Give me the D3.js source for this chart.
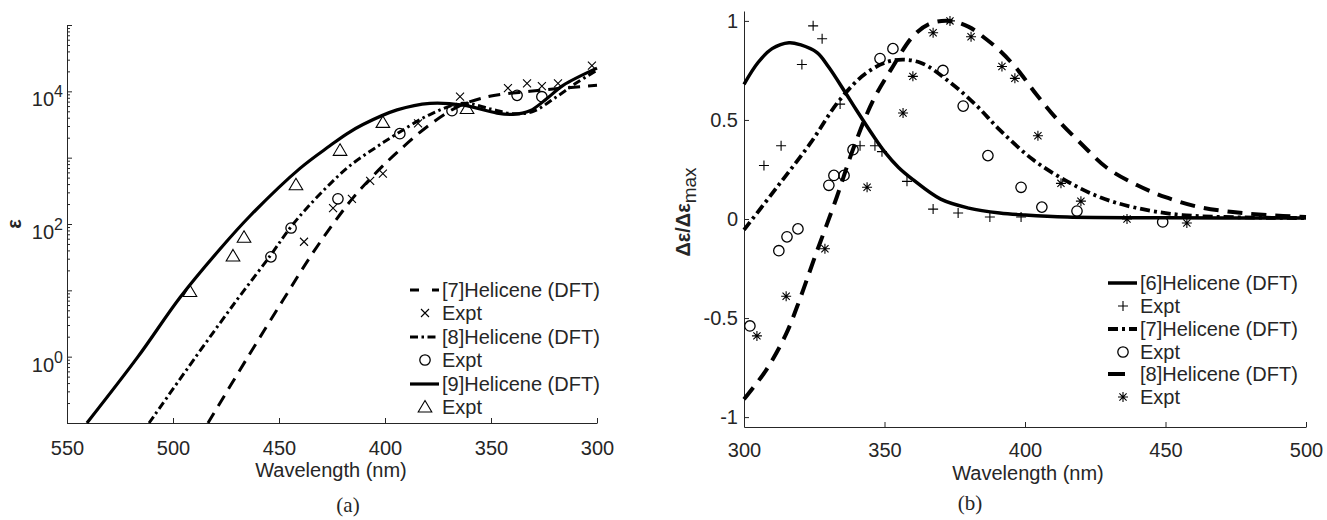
<!DOCTYPE html>
<html>
<head>
<meta charset="utf-8">
<script src="https://cdn.jsdelivr.net/npm/d3@7"></script>
<style>
body { margin: 0; background: #fff; }
svg text { font-family: "Liberation Sans", Arial, sans-serif; fill: #262626; }
</style>
</head>
<body>
<svg id="fig" width="1327" height="520"></svg>
<script>
// ---------- panel (a): absorption, epsilon on a log scale ----------
var absWave7 = [483.5, 464.6, 448, 435, 424.5, 415, 405, 394.3, 378.8, 365, 350, 331.6, 316, 300];
var absEps7  = [0.1, 1, 7.2, 33, 100, 250, 560, 1200, 3160, 6000, 8500, 10000, 11200, 12300];

var absWave8 = [511.3, 489.2, 469.8, 454.2, 444.8, 436, 426, 416.5, 405, 394.3, 378.8, 363.2, 350, 340, 330, 320, 310, 300];
var absEps8  = [0.1, 1, 7.2, 33, 87, 186, 400, 760, 1380, 2300, 4470, 6600, 5400, 4600, 5000, 7900, 13200, 20900];

var absWave9 = [540.6, 516.5, 496.7, 477.8, 463.7, 440.1, 426, 418, 410.4, 394.3, 378.8, 363.2, 347.2, 339.6, 331.6, 323.6, 316, 300];
var absEps9  = [0.1, 1, 7.8, 42, 132, 690, 1510, 2290, 3160, 5250, 6600, 6200, 4700, 4500, 5100, 7800, 12300, 22400];

// experimental points
var exptWave7 = [438.2, 424.5, 415.6, 407, 401, 384.4, 364.6, 342, 333, 326, 318.4, 302.4];
var exptEps7  = [54, 174, 240, 447, 575, 3300, 8300, 11200, 13200, 12000, 13200, 24500];
var exptWave8 = [453.8, 444.3, 422.2, 393, 368.4, 337.7, 326];
var exptEps8  = [32, 87, 240, 2300, 5100, 8700, 8300];
var exptWave9 = [492, 471.7, 466.5, 442, 421.2, 401, 361.3];
var exptEps9  = [9.6, 33, 63, 390, 1290, 3400, 5500];

var absXTicks = [550, 500, 450, 400, 350, 300];
var absYTicks = [1, 100, 10000];
var absYTickExp = ["0", "2", "4"];
var absLegend = ["[7]Helicene (DFT)", "Expt", "[8]Helicene (DFT)", "Expt", "[9]Helicene (DFT)", "Expt"];

// ---------- panel (b): normalised CD, delta eps / delta eps max ----------
var cdWave6 = [300, 305, 310, 316, 320, 326, 330, 336, 340, 346, 350, 355, 360, 370, 380, 391, 400, 415, 450, 500];
var cdVal6  = [0.68, 0.79, 0.86, 0.89, 0.88, 0.84, 0.77, 0.64, 0.55, 0.42, 0.34, 0.26, 0.2, 0.1, 0.055, 0.03, 0.02, 0.01, 0.006, 0.005];

var cdWave7 = [300, 311.7, 323.5, 334, 343.8, 353, 362.6, 373.3, 382.9, 391, 402.8, 415, 426.7, 438.4, 456, 500];
var cdVal7  = [-0.055, 0.16, 0.38, 0.6, 0.74, 0.8, 0.79, 0.69, 0.57, 0.45, 0.3, 0.19, 0.11, 0.06, 0.02, 0.005];

var cdWave8 = [300, 308, 315, 320, 325, 333, 339, 346, 353, 360, 366, 373, 380, 386, 391, 397, 404, 411, 420, 429, 440, 450, 462, 474, 486, 500];
var cdVal8  = [-0.91, -0.76, -0.58, -0.4, -0.2, 0.11, 0.36, 0.6, 0.77, 0.92, 0.985, 1.0, 0.97, 0.91, 0.85, 0.76, 0.63, 0.51, 0.38, 0.26, 0.17, 0.11, 0.06, 0.035, 0.02, 0.01];

var cdExptWave6 = [307.1, 313.2, 320.6, 324.6, 327.8, 334.2, 341.3, 346.6, 349.1, 358, 367.3, 376.2, 387.5, 398.6];
var cdExptVal6  = [0.27, 0.37, 0.78, 0.975, 0.91, 0.58, 0.37, 0.37, 0.34, 0.19, 0.05, 0.03, 0.01, 0.01];
var cdExptWave7 = [302.1, 312.4, 315.3, 319.2, 330.2, 332, 335.6, 338.8, 348.4, 353, 370.8, 378, 386.8, 398.6, 406, 418.5, 449];
var cdExptVal7  = [-0.54, -0.16, -0.09, -0.05, 0.17, 0.22, 0.22, 0.35, 0.81, 0.86, 0.75, 0.57, 0.32, 0.16, 0.06, 0.04, -0.015];
var cdExptWave8 = [304.6, 315, 328.8, 343.8, 356.6, 360.1, 367.3, 373.3, 380.8, 391.8, 396.4, 404.6, 412.8, 419.9, 436.3, 457.6];
var cdExptVal8  = [-0.59, -0.39, -0.15, 0.16, 0.535, 0.72, 0.94, 1.0, 0.92, 0.77, 0.71, 0.42, 0.18, 0.09, 0.0, -0.02];

var cdXTicks = [300, 350, 400, 450, 500];
var cdYTicks = [-1, -0.5, 0, 0.5, 1];
var cdLegend = ["[6]Helicene (DFT)", "Expt", "[7]Helicene (DFT)", "Expt", "[8]Helicene (DFT)", "Expt"];

var zip = function (xs, ys) { return xs.map(function (x, i) { return [x, ys[i]]; }); };

var svg = d3.select("#fig");
var axisColor = "#262626";
var sansFont = "'Liberation Sans', Arial, sans-serif";

// marker shapes
function markerPath(kind) {
    if (kind == "x") return "M-4,-4L4,4M-4,4L4,-4";
    if (kind == "plus") return "M-5,0L5,0M0,-5L0,5";
    if (kind == "star") return "M-5,0L5,0M0,-5L0,5M-3.6,-3.6L3.6,3.6M-3.6,3.6L3.6,-3.6";
    if (kind == "tri") return "M0,-6.5L6.8,5L-6.8,5Z";
    return null;
}

function drawMarkers(g, pts, kind, x, y) {
    if (kind == "circle") {
        g.selectAll(null).data(pts).enter().append("circle")
            .attr("cx", function (d) { return x(d[0]); })
            .attr("cy", function (d) { return y(d[1]); })
            .attr("r", 5.2)
            .attr("fill", "none").attr("stroke", "#000").attr("stroke-width", 1.3);
    } else {
        g.selectAll(null).data(pts).enter().append("path")
            .attr("transform", function (d) { return "translate(" + x(d[0]) + "," + y(d[1]) + ")"; })
            .attr("d", markerPath(kind))
            .attr("fill", "none").attr("stroke", "#000").attr("stroke-width", 1.1);
    }
}

function drawLegend(x0, rows, items, txt) {
    var lg = svg.append("g");
    items.forEach(function (it, i) {
        var yy = rows[i];
        if (it.dash !== undefined) {
            lg.append("line")
                .attr("x1", x0).attr("x2", x0 + 29)
                .attr("y1", yy).attr("y2", yy)
                .attr("stroke", "#000").attr("stroke-width", it.w)
                .attr("stroke-dasharray", it.dash);
        } else {
            drawMarkers(lg, [[x0 + 15, yy]], it.mark, function (v) { return v; }, function (v) { return v; });
        }
        lg.append("text")
            .attr("x", x0 + 32).attr("y", yy).attr("dy", "0.36em")
            .attr("font-size", 20)
            .text(txt[i]);
    });
}

function styleAxis(a) {
    a.select(".domain").attr("stroke", axisColor);
    a.selectAll(".tick line").attr("stroke", axisColor);
    a.selectAll("text").attr("font-size", 20).attr("font-family", sansFont).attr("fill", axisColor);
}

// ===== panel (a) =====
var xA = d3.scaleLinear().domain([550, 300]).range([67, 597]);
var yA = d3.scaleLog().domain([0.1, 1e5]).range([423, 25]);

var gA = svg.append("g");

var axA = gA.append("g").attr("transform", "translate(0,423)")
    .call(d3.axisBottom(xA).tickValues(absXTicks).tickSize(-5).tickSizeOuter(0).tickPadding(18));
var minorA = [];
for (var k = -1; k < 5; k++) {
    for (var m = 1; m < 10; m++) minorA.push(m * Math.pow(10, k));
}
minorA.push(1e5);
var ayA = gA.append("g").attr("transform", "translate(67,0)")
    .call(d3.axisLeft(yA).tickValues(minorA).tickSize(-3).tickSizeOuter(0).tickFormat(""));
ayA.selectAll(".tick line").filter(function (d) { return Math.abs(Math.log10(d) % 1) < 1e-9; }).attr("x2", 5);
styleAxis(axA);
styleAxis(ayA);

absYTicks.forEach(function (v, i) {
    var t = gA.append("text")
        .attr("x", 63).attr("y", yA(v) + 15)
        .attr("text-anchor", "end")
        .attr("font-size", 20)
        .text("10");
    t.append("tspan").attr("dy", -9).attr("font-size", 16).text(absYTickExp[i]);
});

gA.append("text").attr("x", 331).attr("y", 477).attr("text-anchor", "middle")
    .attr("font-size", 20).text("Wavelength (nm)");
gA.append("text").attr("transform", "translate(21,224) rotate(-90)")
    .attr("text-anchor", "middle").attr("font-size", 20).attr("font-weight", "bold").text("ε");
gA.append("text").attr("x", 348).attr("y", 512).attr("text-anchor", "middle")
    .style("font-family", "'Liberation Serif', 'Times New Roman', serif").attr("fill", "#000")
    .attr("font-size", 21).text("(a)");

var lineA = d3.line()
    .x(function (d) { return xA(d[0]); })
    .y(function (d) { return yA(d[1]); })
    .curve(d3.curveCatmullRom.alpha(0.5));

var plotA = gA.append("g");
plotA.append("path").datum(zip(absWave7, absEps7)).attr("d", lineA)
    .attr("fill", "none").attr("stroke", "#000").attr("stroke-width", 3).attr("stroke-dasharray", "12,8");
plotA.append("path").datum(zip(absWave8, absEps8)).attr("d", lineA)
    .attr("fill", "none").attr("stroke", "#000").attr("stroke-width", 3).attr("stroke-dasharray", "8,3.5,2.5,3.5");
plotA.append("path").datum(zip(absWave9, absEps9)).attr("d", lineA)
    .attr("fill", "none").attr("stroke", "#000").attr("stroke-width", 3.2);

drawMarkers(plotA, zip(exptWave7, exptEps7), "x", xA, yA);
drawMarkers(plotA, zip(exptWave8, exptEps8), "circle", xA, yA);
drawMarkers(plotA, zip(exptWave9, exptEps9), "tri", xA, yA);

drawLegend(410, [290, 313, 337, 360, 384, 407], [
    { dash: "9,13", w: 3 }, { mark: "x" },
    { dash: "8,3.5,2.5,3.5", w: 3 }, { mark: "circle" },
    { dash: "none", w: 3.2 }, { mark: "tri" }
], absLegend);

// ===== panel (b) =====
var xB = d3.scaleLinear().domain([300, 500]).range([744, 1306]);
var yB = d3.scaleLinear().domain([-1.05, 1.05]).range([427, 11]);

var gB = svg.append("g");
var axB = gB.append("g").attr("transform", "translate(0,427)")
    .call(d3.axisBottom(xB).tickValues(cdXTicks).tickSize(-5).tickSizeOuter(0).tickPadding(16));
var ayB = gB.append("g").attr("transform", "translate(744,0)")
    .call(d3.axisLeft(yB).tickValues(cdYTicks).tickSize(-5).tickSizeOuter(0).tickPadding(6)
        .tickFormat(function (d) { return String(d); }));
styleAxis(axB);
styleAxis(ayB);

gB.append("text").attr("x", 1028).attr("y", 480).attr("text-anchor", "middle")
    .attr("font-size", 20).text("Wavelength (nm)");
var ylab = gB.append("text").attr("transform", "translate(690,212) rotate(-90)")
    .attr("text-anchor", "middle").attr("font-size", 20);
ylab.append("tspan").attr("font-weight", "bold").text("Δε/Δε");
ylab.append("tspan").attr("dy", 6).attr("font-size", 19).text("max");
gB.append("text").attr("x", 970).attr("y", 510).attr("text-anchor", "middle")
    .style("font-family", "'Liberation Serif', 'Times New Roman', serif").attr("fill", "#000")
    .attr("font-size", 21).text("(b)");

var lineB = d3.line()
    .x(function (d) { return xB(d[0]); })
    .y(function (d) { return yB(d[1]); })
    .curve(d3.curveCatmullRom.alpha(0.5));

var plotB = gB.append("g");
plotB.append("path").datum(zip(cdWave8, cdVal8)).attr("d", lineB)
    .attr("fill", "none").attr("stroke", "#000").attr("stroke-width", 4).attr("stroke-dasharray", "15,9");
plotB.append("path").datum(zip(cdWave7, cdVal7)).attr("d", lineB)
    .attr("fill", "none").attr("stroke", "#000").attr("stroke-width", 3.8).attr("stroke-dasharray", "10,4,3,4");
plotB.append("path").datum(zip(cdWave6, cdVal6)).attr("d", lineB)
    .attr("fill", "none").attr("stroke", "#000").attr("stroke-width", 3.5);

drawMarkers(plotB, zip(cdExptWave6, cdExptVal6), "plus", xB, yB);
drawMarkers(plotB, zip(cdExptWave7, cdExptVal7), "circle", xB, yB);
drawMarkers(plotB, zip(cdExptWave8, cdExptVal8), "star", xB, yB);

drawLegend(1108, [283, 306, 329, 352, 374, 397], [
    { dash: "none", w: 3.5 }, { mark: "plus" },
    { dash: "10,4,3,4", w: 3.8 }, { mark: "circle" },
    { dash: "17,20", w: 4 }, { mark: "star" }
], cdLegend);
</script>
</body>
</html>
